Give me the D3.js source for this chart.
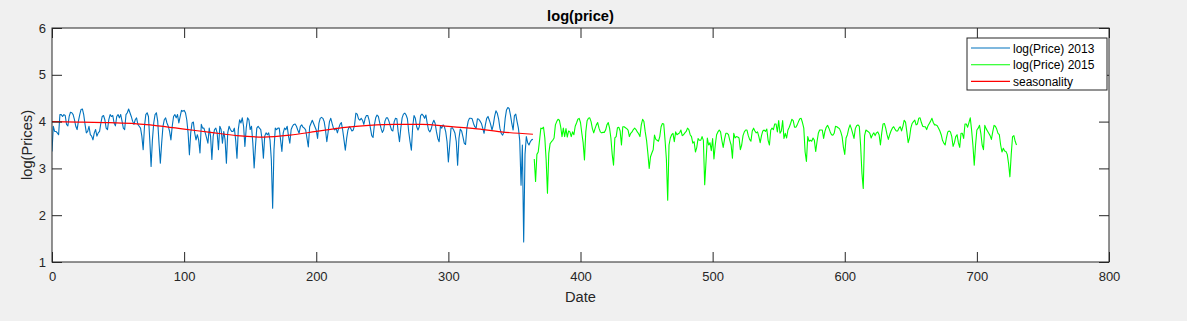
<!DOCTYPE html>
<html>
<head>
<meta charset="utf-8">
<script src="https://cdn.jsdelivr.net/npm/d3@7"></script>
<style>
  body { margin: 0; background: #f0f0f0; }
  text { font-family: "Liberation Sans", Arial, sans-serif; }
</style>
</head>
<body>
<svg id="chart"></svg>
<script>
// log(price) per day, 2013 (day 0..364)
var price2013 = [
  3.36, 3.9, 3.79, 3.79, 3.76, 3.72, 4.15, 4.15, 4.11, 4.15,
  4.13, 3.94, 3.91, 4.11, 4.2, 4.19, 4.15, 4.04, 3.9, 3.83,
  4.01, 4.15, 4.26, 4.27, 4.15, 3.94, 3.76, 3.79, 3.9, 3.72,
  3.69, 3.61, 3.76, 3.83, 3.69, 3.76, 3.79, 3.97, 4.11, 4.13,
  4.04, 3.86, 3.83, 4.04, 4.15, 4.11, 4.13, 3.97, 3.91, 4.11,
  4.15, 4.08, 4.15, 4.01, 3.86, 3.83, 4.15, 4.19, 4.27, 4.19,
  4.11, 4.01, 3.94, 4.04, 4.08, 3.94, 3.9, 3.86, 3.69, 3.4,
  3.9, 4.15, 4.19, 4.11, 3.61, 3.04, 3.61, 3.97, 4.15, 4.19,
  4.01, 3.54, 3.11, 3.54, 3.9, 4.04, 4.08, 3.97, 3.9, 3.79,
  3.61, 3.9, 4.11, 4.15, 4.08, 4.15, 3.97, 4.11, 4.24, 4.22,
  4.24, 4.19, 4.04, 3.76, 3.29, 3.76, 3.97, 3.99, 3.76, 3.61,
  3.72, 3.61, 3.33, 3.94, 3.86, 3.86, 3.76, 3.65, 3.54, 3.86,
  3.69, 3.19, 3.69, 3.83, 3.86, 3.76, 3.4, 3.9, 3.83, 3.54,
  3.79, 3.61, 3.11, 3.76, 3.9, 3.83, 3.79, 3.79, 3.86, 3.61,
  3.22, 3.83, 4.04, 3.97, 4.08, 3.9, 3.47, 3.86, 4.08, 4.04,
  3.83, 3.9, 3.54, 3.01, 3.47, 3.86, 3.9, 3.86, 3.83, 3.61,
  3.22, 3.69, 3.76, 3.72, 3.76, 3.61, 3.19, 2.15, 3.4, 3.86,
  3.83, 3.86, 3.86, 3.61, 3.36, 3.76, 3.86, 3.83, 3.9, 3.69,
  3.54, 3.83, 3.9, 3.94, 3.95, 3.9, 3.82, 3.75, 3.9, 3.93, 3.88,
  3.86, 3.82, 3.64, 3.46, 3.89, 3.96, 4.03, 3.96, 3.89, 3.82,
  3.64, 3.96, 4.07, 4.09, 4.07, 4.0, 3.82, 3.57, 3.78, 4.0,
  4.07, 3.96, 3.86, 3.82, 3.86, 3.76, 3.86, 3.94, 3.98, 3.82,
  3.61, 3.39, 3.64, 3.82, 3.89, 3.86, 3.80, 3.82, 3.93, 4.18,
  4.16, 4.06, 4.03, 4.07, 4.03, 3.94, 4.07, 4.13, 4.13, 4.03,
  3.86, 3.70, 3.66, 3.93, 4.08, 4.14, 4.11, 3.98, 3.86, 3.77,
  3.82, 4.01, 4.08, 4.08, 4.01, 3.91, 3.82, 3.80, 4.0, 4.07,
  4.06, 3.78, 3.57, 3.86, 4.08, 4.16, 4.18, 4.14, 4.06, 3.78,
  3.57, 3.39, 3.89, 4.13, 4.07, 3.89, 3.82, 3.89, 4.13, 4.16,
  4.13, 4.07, 4.14, 3.96, 3.82, 3.78, 3.84, 3.96, 4.03, 3.96,
  3.78, 3.64, 3.57,
  3.91, 3.86, 3.93, 3.89, 3.78, 3.57, 3.14, 3.50, 3.86, 3.87,
  3.82, 3.75, 3.57, 3.07, 3.64, 3.84, 3.80, 3.68, 3.54, 3.51,
  3.86, 4.01, 4.07, 4.07, 4.06, 3.96, 3.89, 3.86, 4.06, 4.05,
  4.01, 3.96, 3.86, 3.75, 3.93, 4.07, 4.11, 4.03, 3.94, 3.82,
  3.93, 4.11, 4.23, 4.18, 4.06, 3.86, 3.75, 3.71, 3.77, 4.07,
  4.25, 4.30, 4.28, 4.14, 3.96, 3.82, 4.13, 4.16, 4.0, 3.86,
  3.6, 2.64, 3.5, 1.43, 3.3, 3.68, 3.55, 3.5, 3.57, 3.61, 3.62
];

// log(price) per day, 2015 (day 365..730)
var price2015 = [
  3.2, 2.72, 3.3, 3.35, 3.6, 3.86, 3.85, 3.88, 3.65, 3.18,
  2.47, 3.32, 3.53, 3.57, 3.6, 3.65, 3.93, 4.0, 4.05, 4.03,
  3.89, 3.68, 3.86,
  3.68, 3.85, 3.67, 3.80, 3.78, 3.68, 3.78, 3.72, 3.90, 3.97,
  4.05, 4.07, 3.98, 3.75, 3.55, 3.18, 3.78, 4.02, 4.07, 4.08,
  4.0, 3.85, 3.76, 3.85, 3.93, 3.98, 3.86, 3.78, 3.76, 3.77,
  3.77, 3.82, 3.93, 3.98, 3.86, 3.65, 3.3, 3.07, 3.65, 3.68,
  3.87, 3.88, 3.8, 3.5, 3.89, 3.89, 3.87, 3.85, 3.82, 3.68,
  3.75, 3.78, 3.83, 3.86, 3.83, 3.78, 3.74, 3.68, 3.93, 4.05,
  4.0, 3.78, 3.6, 3.32, 3.0, 3.25, 3.33, 3.4, 3.71, 3.62,
  3.6, 3.58, 3.68, 3.89, 3.96, 3.95, 3.6, 3.2, 2.32, 3.5,
  3.65, 3.72, 3.75, 3.57, 3.78, 3.72, 3.74, 3.76, 3.82, 3.7,
  3.72, 3.76, 3.79, 3.86, 3.83, 3.72, 3.68, 3.54, 3.57, 3.35,
  3.45, 3.64, 3.6,
  3.6, 3.68, 3.6, 2.65, 3.15, 3.65, 3.5, 3.55, 3.38, 3.64,
  3.2, 3.5, 3.72, 3.78, 3.82, 3.78, 3.6, 3.45, 3.62, 3.75,
  3.75, 3.72, 3.6, 3.5, 3.22, 3.75, 3.65, 3.68, 3.67, 3.65,
  3.4, 3.5, 3.7, 3.78, 3.82, 3.82, 3.7, 3.62, 3.58, 3.8,
  3.86, 3.8, 3.76, 3.78, 3.68, 3.55, 3.7, 3.8, 3.82, 3.79,
  3.84, 3.6, 3.5, 3.82, 3.86, 3.83, 3.95, 3.95, 3.78, 4.02,
  3.75, 3.8, 4.02, 3.64, 3.75, 3.65, 3.82, 3.88, 3.96, 4.05,
  4.02, 3.88, 3.88, 3.93, 4.0, 4.06, 4.07, 3.98, 3.86, 3.35,
  3.15, 3.68, 3.58, 3.6, 3.58, 3.65, 3.6, 3.36, 3.57, 3.75,
  3.82, 3.82, 3.82, 3.64, 3.79, 3.88, 3.92,
  3.86, 3.78, 3.72, 3.71, 3.75, 3.9, 3.89, 3.87, 3.85, 3.78,
  3.68, 3.45, 3.3, 3.65, 3.72, 3.85, 3.93, 3.85, 3.75, 3.64,
  3.85, 3.91, 3.93, 3.9, 3.5, 2.9, 2.57, 3.7, 3.82, 3.8,
  3.78, 3.75, 3.65, 3.72, 3.76, 3.7, 3.76, 3.78, 3.72, 3.5,
  3.76, 3.95, 3.96, 3.86, 3.72, 3.62, 3.72, 3.8, 3.86, 3.89,
  3.84, 3.8, 3.8, 3.86, 3.89, 3.8, 3.9, 4.03, 3.99, 3.78,
  3.55, 3.65, 3.86, 3.96, 4.0, 4.03, 3.93, 3.95, 4.07, 4.08,
  3.98, 3.9, 3.89, 3.89, 3.83, 3.91, 3.96, 4.01, 4.07, 3.98,
  3.93, 3.93, 3.91, 3.86, 3.8, 3.72, 3.6, 3.54, 3.5, 3.66,
  3.78, 3.8, 3.78, 3.68, 3.47, 3.55, 3.68, 3.72,
  3.55, 3.45, 3.75, 3.75, 3.64, 3.95, 3.95, 3.88, 3.98, 4.08,
  3.82, 3.5, 3.07, 3.5, 3.82, 3.86, 3.92, 3.75, 3.5, 3.4,
  3.92, 3.85, 3.8, 3.75, 3.7, 3.62, 3.78, 3.92, 3.9, 3.84,
  3.75, 3.72, 3.5, 3.35, 3.43, 3.37, 3.36, 3.3, 3.1, 2.82,
  3.3, 3.68, 3.7, 3.58, 3.5
];

var start2013 = 0, start2015 = 365;

// seasonal component (smooth curve over 2013)
var seasonDays = [0, 20, 40, 60, 80, 100, 120, 140, 160, 180, 200, 220, 240, 260, 280, 300, 320, 340, 364];
var seasonVals = [4.0, 3.99, 3.98, 3.96, 3.91, 3.84, 3.77, 3.70, 3.67, 3.71, 3.79, 3.87, 3.92, 3.94, 3.94, 3.90, 3.85, 3.78, 3.73];

var xTicks = [0, 100, 200, 300, 400, 500, 600, 700, 800];
var yTicks = [1, 2, 3, 4, 5, 6];
var legendLabels = ['log(Price) 2013', 'log(Price) 2015', 'seasonality'];
var colors = ['#0072bd', '#00ff00', '#ff0000'];

var width = 1187,
    height = 321;
var plotLeft = 52, plotRight = 1109, plotTop = 28, plotBottom = 262;

var svg = d3.select('#chart')
    .attr('width', width)
    .attr('height', height);

var x = d3.scaleLinear().domain([0, 800]).range([plotLeft, plotRight]);
var y = d3.scaleLinear().domain([1, 6]).range([plotBottom, plotTop]);

svg.append('rect')
  .attr('x', plotLeft)
  .attr('y', plotTop)
  .attr('width', plotRight - plotLeft)
  .attr('height', plotBottom - plotTop)
  .attr('fill', '#fff');

svg.append('clipPath')
  .attr('id', 'clip')
  .append('rect')
  .attr('x', plotLeft)
  .attr('y', plotTop)
  .attr('width', plotRight - plotLeft)
  .attr('height', plotBottom - plotTop);

var s2013 = price2013.map(function(v, i) { return [start2013 + i, v]; });
var s2015 = price2015.map(function(v, i) { return [start2015 + i, v]; });
var season = seasonDays.map(function(d, i) { return [d, seasonVals[i]]; });

var line = d3.line()
    .x(function(d) { return x(d[0]); })
    .y(function(d) { return y(d[1]); });

var plot = svg.append('g').attr('clip-path', 'url(#clip)');

plot.append('path')
  .datum(s2013)
  .attr('d', line)
  .attr('fill', 'none')
  .attr('stroke', colors[0])
  .attr('stroke-width', 1.1)
  .attr('stroke-linejoin', 'round');

plot.append('path')
  .datum(s2015)
  .attr('d', line)
  .attr('fill', 'none')
  .attr('stroke', colors[1])
  .attr('stroke-width', 1.1)
  .attr('stroke-linejoin', 'round');

plot.append('path')
  .datum(season)
  .attr('d', line.curve(d3.curveMonotoneX))
  .attr('fill', 'none')
  .attr('stroke', colors[2])
  .attr('stroke-width', 1.2);

// axes, MATLAB style: inward ticks on all four sides
var tickLen = 10;
var axisColor = '#262626';

svg.append('g')
  .attr('transform', 'translate(0,' + plotBottom + ')')
  .call(d3.axisBottom(x).tickValues(xTicks).tickSizeInner(-tickLen).tickSizeOuter(0).tickPadding(10))
  .call(function(g) {
    g.select('.domain').remove();
    g.selectAll('line').attr('stroke', axisColor);
    g.selectAll('text').attr('font-size', 13).attr('fill', axisColor)
      .attr('font-family', '"Liberation Sans", Arial, sans-serif');
  });

svg.append('g')
  .attr('transform', 'translate(0,' + plotTop + ')')
  .call(d3.axisTop(x).tickValues(xTicks).tickSizeInner(-tickLen).tickSizeOuter(0).tickFormat(''))
  .call(function(g) {
    g.select('.domain').remove();
    g.selectAll('line').attr('stroke', axisColor);
  });

svg.append('g')
  .attr('transform', 'translate(' + plotLeft + ',0)')
  .call(d3.axisLeft(y).tickValues(yTicks).tickSizeInner(-tickLen).tickSizeOuter(0)
    .tickPadding(6).tickFormat(d3.format('d')))
  .call(function(g) {
    g.select('.domain').remove();
    g.selectAll('line').attr('stroke', axisColor);
    g.selectAll('text').attr('font-size', 13).attr('fill', axisColor)
      .attr('font-family', '"Liberation Sans", Arial, sans-serif');
  });

svg.append('g')
  .attr('transform', 'translate(' + plotRight + ',0)')
  .call(d3.axisRight(y).tickValues(yTicks).tickSizeInner(-tickLen).tickSizeOuter(0).tickFormat(''))
  .call(function(g) {
    g.select('.domain').remove();
    g.selectAll('line').attr('stroke', axisColor);
  });

svg.append('rect')
  .attr('x', plotLeft)
  .attr('y', plotTop)
  .attr('width', plotRight - plotLeft)
  .attr('height', plotBottom - plotTop)
  .attr('fill', 'none')
  .attr('stroke', axisColor)
  .attr('stroke-width', 1);

// title and labels
svg.append('text')
  .text('log(price)')
  .attr('x', (plotLeft + plotRight) / 2)
  .attr('y', 21)
  .attr('font-size', 14.67)
  .attr('font-weight', 'bold')
  .attr('fill', '#000')
  .style('text-anchor', 'middle');

svg.append('text')
  .text('Date')
  .attr('x', (plotLeft + plotRight) / 2)
  .attr('y', 302)
  .attr('font-size', 14.67)
  .attr('fill', axisColor)
  .style('text-anchor', 'middle');

svg.append('text')
  .text('log(Prices)')
  .attr('transform', 'translate(32,' + ((plotTop + plotBottom) / 2) + ') rotate(-90)')
  .attr('font-size', 14.67)
  .attr('fill', axisColor)
  .style('text-anchor', 'middle');

// legend
var legend = svg.append('g').attr('transform', 'translate(967,38)');

legend.append('rect')
  .attr('x', 0)
  .attr('y', 0)
  .attr('width', 140)
  .attr('height', 52)
  .attr('fill', '#fff')
  .attr('stroke', axisColor)
  .attr('stroke-width', 1);

var rows = legend.selectAll('.row')
  .data(legendLabels)
  .enter().append('g')
  .attr('class', 'row')
  .attr('transform', function(d, i) { return 'translate(0,' + (10 + i * 16.7) + ')'; });

rows.append('line')
  .attr('x1', 4)
  .attr('x2', 43)
  .attr('y1', 0)
  .attr('y2', 0)
  .attr('stroke', function(d, i) { return colors[i]; })
  .attr('stroke-width', 1.1);

rows.append('text')
  .text(function(d) { return d; })
  .attr('x', 46)
  .attr('y', 4.5)
  .attr('font-size', 12)
  .attr('fill', '#000');
</script>
</body>
</html>
